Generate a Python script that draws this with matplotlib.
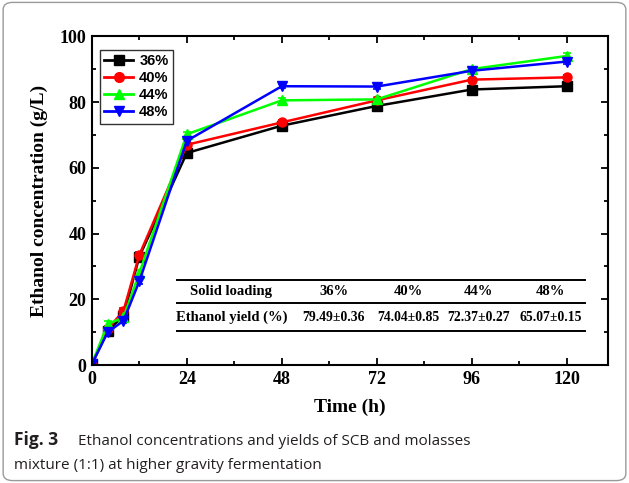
import numpy as np
import matplotlib.pyplot as plt
from matplotlib.patches import FancyBboxPatch
from matplotlib.lines import Line2D

# Sampling times (h)
time_h = [0, 4, 8, 12, 24, 48, 72, 96, 120]

# Ethanol concentration (g/L) for each solid loading
conc_36 = [0.3, 10.5, 15.0, 33.0, 64.5, 72.8, 78.8, 83.8, 84.8]
conc_40 = [0.3, 11.0, 16.5, 33.5, 67.0, 73.8, 80.5, 86.8, 87.5]
conc_44 = [0.3, 12.5, 14.5, 28.0, 70.2, 80.5, 80.8, 90.0, 94.0]
conc_48 = [0.3, 10.0, 13.5, 25.5, 68.2, 84.8, 84.7, 89.5, 92.3]

# Standard deviations (small, read as error bar caps)
err_36 = [0.2, 0.8, 0.8, 0.8, 1.0, 0.6, 0.6, 0.6, 0.6]
err_40 = [0.2, 0.8, 0.8, 0.8, 0.8, 0.6, 0.6, 0.6, 0.6]
err_44 = [0.2, 0.8, 0.8, 0.8, 0.8, 0.6, 0.6, 0.6, 0.8]
err_48 = [0.2, 0.8, 0.8, 0.8, 0.8, 0.6, 0.6, 0.6, 0.8]

labels = ['36%', '40%', '44%', '48%']
colors = ['black', 'red', '#00FF00', 'blue']
markers = ['s', 'o', '^', 'v']

# Yield table
table_cols = ['Solid loading', '36%', '40%', '44%', '48%']
yield_row = ['Ethanol yield (%)', '79.49\u00b10.36', '74.04\u00b10.85',
             '72.37\u00b10.27', '65.07\u00b10.15']

serif = 'Liberation Serif'

fig = plt.figure(figsize=(6.29, 4.83), dpi=100)

# rounded frame around the whole figure
frame = FancyBboxPatch((0.005, 0.005), 0.99, 0.99,
                       boxstyle='round,pad=0,rounding_size=0.015',
                       transform=fig.transFigure, fill=False,
                       edgecolor='#9a9a9a', linewidth=1.0)
fig.patches.append(frame)

ax = fig.add_axes([0.146, 0.244, 0.821, 0.681])

series = [conc_36, conc_40, conc_44, conc_48]
errors = [err_36, err_40, err_44, err_48]
handles = []
for y, e, lab, c, m in zip(series, errors, labels, colors, markers):
    ax.errorbar(time_h, y, yerr=e, color=c, marker=m,
                markersize=6.5, linewidth=1.8, capsize=3, elinewidth=1.2,
                capthick=1.2)
    handles.append(Line2D([], [], color=c, marker=m, markersize=7,
                          linewidth=2, label=lab))

ax.set_xlim(0, 130.5)
ax.set_ylim(0, 100)
ax.set_xticks([0, 24, 48, 72, 96, 120])
ax.set_xticks([12, 36, 60, 84, 108], minor=True)
ax.set_yticks([0, 20, 40, 60, 80, 100])
ax.set_yticks([10, 30, 50, 70, 90], minor=True)
ax.tick_params(which='both', direction='in', top=True, right=True, width=1.3)
ax.tick_params(which='major', length=5, labelsize=13, pad=4)
ax.tick_params(which='minor', length=3)
for lbl in ax.get_xticklabels() + ax.get_yticklabels():
    lbl.set_fontfamily(serif)
    lbl.set_fontweight('bold')
for sp in ax.spines.values():
    sp.set_linewidth(1.5)

ax.set_xlabel('Time (h)', fontfamily=serif, fontweight='bold', fontsize=14,
              labelpad=8)
ax.set_ylabel('Ethanol concentration (g/L)', fontfamily=serif,
              fontweight='bold', fontsize=14, labelpad=8)

leg = ax.legend(handles=handles, loc='upper left',
                bbox_to_anchor=(0.0155, 0.958),
                prop={'family': 'Liberation Sans', 'weight': 'bold', 'size': 10.5},
                frameon=True, fancybox=False, edgecolor='black',
                handlelength=2.0, labelspacing=0.2, borderpad=0.3,
                handletextpad=0.4, borderaxespad=0)
leg.get_frame().set_linewidth(1.0)

# table drawn in axes coordinates
col_x = [0.27, 0.468, 0.613, 0.749, 0.888]
x0, x1 = 0.165, 0.955
for yy in [0.26, 0.19, 0.105]:
    ax.plot([x0, x1], [yy, yy], transform=ax.transAxes, color='black',
            linewidth=1.4, clip_on=False)
for x, t in zip(col_x, table_cols):
    ax.text(x, 0.225, t, transform=ax.transAxes, ha='center', va='center',
            fontfamily=serif, fontweight='bold', fontsize=10.5)
for i, (x, t) in enumerate(zip(col_x, yield_row)):
    ax.text(x, 0.145, t, transform=ax.transAxes, ha='center', va='center',
            fontfamily=serif, fontweight='bold', fontsize=10.5 if i == 0 else 9.8)

# caption
cap_font = 'Open Sans'
fig.text(0.022, 0.078, 'Fig. 3', fontfamily=cap_font, fontweight='bold',
         fontsize=12.5, color='#231f20')
fig.text(0.124, 0.078, 'Ethanol concentrations and yields of SCB and molasses',
         fontfamily=cap_font, fontsize=11, color='#231f20')
fig.text(0.022, 0.028, 'mixture (1:1) at higher gravity fermentation',
         fontfamily=cap_font, fontsize=11, color='#231f20')

plt.savefig('out.png', dpi=100)
